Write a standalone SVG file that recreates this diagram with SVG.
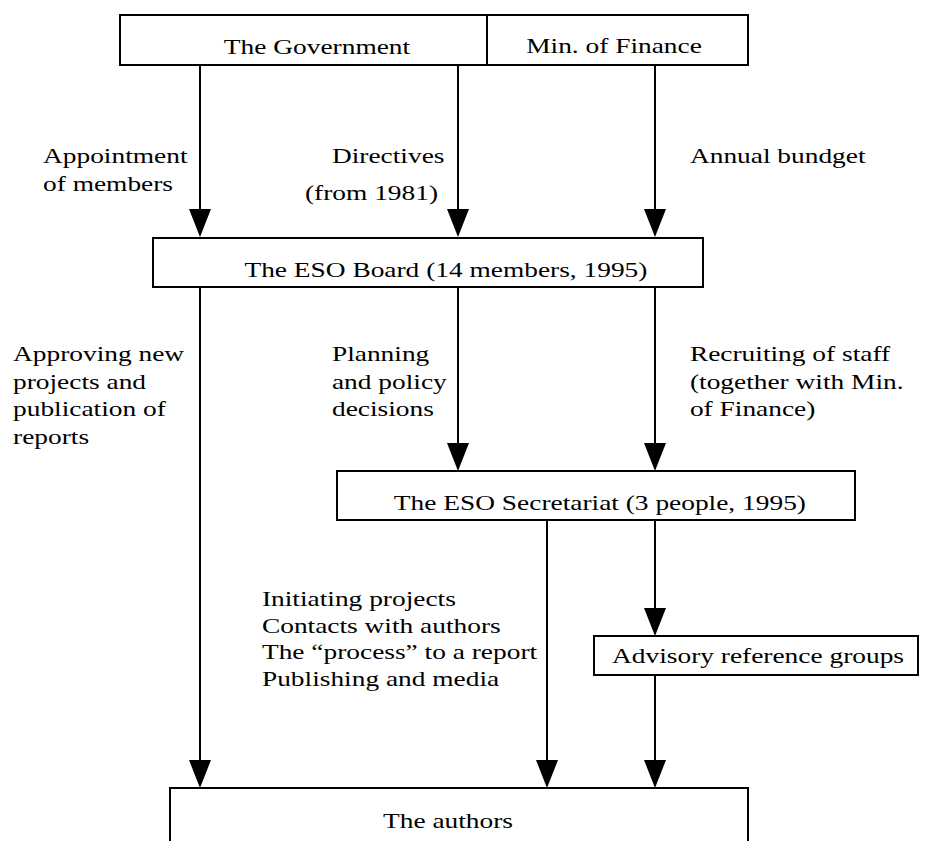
<svg xmlns="http://www.w3.org/2000/svg" width="938" height="841" viewBox="0 0 938 841">
<style>
.box{fill:#fff;stroke:#000;stroke-width:2}
.ln{stroke:#000;stroke-width:2;fill:none}
.ah{fill:#000}
text{font-family:"Liberation Serif","Times New Roman",serif;font-size:20px;fill:#000}
.c{text-anchor:middle}
</style>
<defs>
<path id="head" d="M-11,-28 L11,-28 L0,0 Z" class="ah"/>
</defs>
<rect width="938" height="841" fill="#fff"/>
<g id="government">
<rect class="box" x="120" y="15" width="628" height="50"/>
<line class="ln" x1="487" y1="15" x2="487" y2="65"/>
<text class="c" transform="scale(1.37 1)" x="231.4" y="54">The Government</text>
</g>
<g id="finance">
<text class="c" transform="scale(1.37 1)" x="448.2" y="53">Min. of Finance</text>
</g>
<g id="board">
<rect class="box" x="153" y="238" width="550" height="49"/>
<text class="c" transform="scale(1.37 1)" x="325.5" y="277">The ESO Board (14 members, 1995)</text>
</g>
<g id="secretariat">
<rect class="box" x="337" y="471" width="518" height="49"/>
<text class="c" transform="scale(1.37 1)" x="437.9" y="510">The ESO Secretariat (3 people, 1995)</text>
</g>
<g id="advisory">
<rect class="box" x="594" y="636" width="324" height="39"/>
<text class="c" transform="scale(1.37 1)" x="553.3" y="663">Advisory reference groups</text>
</g>
<g id="authors">
<rect class="box" x="170" y="788" width="578" height="60"/>
<text class="c" transform="scale(1.37 1)" x="327" y="828">The authors</text>
</g>
<g id="connectors">
<line class="ln" x1="200" y1="65" x2="200" y2="212"/>
<use href="#head" x="200" y="237"/>
<line class="ln" x1="458" y1="65" x2="458" y2="212"/>
<use href="#head" x="458" y="237"/>
<line class="ln" x1="655" y1="65" x2="655" y2="212"/>
<use href="#head" x="655" y="237"/>
<line class="ln" x1="200" y1="287" x2="200" y2="763"/>
<use href="#head" x="200" y="788"/>
<line class="ln" x1="458" y1="287" x2="458" y2="446"/>
<use href="#head" x="458" y="471"/>
<line class="ln" x1="655" y1="287" x2="655" y2="446"/>
<use href="#head" x="655" y="471"/>
<line class="ln" x1="547" y1="520" x2="547" y2="763"/>
<use href="#head" x="547" y="788"/>
<line class="ln" x1="655" y1="520" x2="655" y2="611"/>
<use href="#head" x="655" y="636"/>
<line class="ln" x1="655" y1="675" x2="655" y2="763"/>
<use href="#head" x="655" y="788"/>
</g>
<g id="labels" transform="scale(1.37 1)">
<text x="31.4" y="163">Appointment</text>
<text x="31.4" y="191">of members</text>
<text x="242.3" y="163">Directives</text>
<text x="222.6" y="200">(from 1981)</text>
<text x="503.6" y="163">Annual bundget</text>
<text x="9.5" y="361">Approving new</text>
<text x="9.5" y="389">projects and</text>
<text x="9.5" y="416">publication of</text>
<text x="9.5" y="444">reports</text>
<text x="242.3" y="361">Planning</text>
<text x="242.3" y="389">and policy</text>
<text x="242.3" y="416">decisions</text>
<text x="503.6" y="361">Recruiting of staff</text>
<text x="503.6" y="389">(together with Min.</text>
<text x="503.6" y="416">of Finance)</text>
<text x="191.2" y="606">Initiating projects</text>
<text x="191.2" y="633">Contacts with authors</text>
<text x="191.2" y="659">The “process” to a report</text>
<text x="191.2" y="686">Publishing and media</text>
</g>
</svg>
